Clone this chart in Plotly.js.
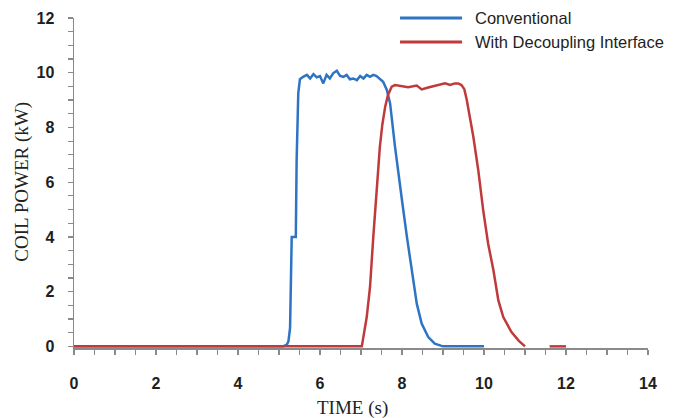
<!DOCTYPE html>
<html>
<head>
<meta charset="utf-8">
<script src="https://cdn.plot.ly/plotly-3.0.1.min.js"></script>
<style>html,body{margin:0;padding:0;background:#fff;}#chart{width:692px;height:418px;}</style>
</head>
<body>
<div id="chart"></div>
<script>
// ---- data ----
const seriesNames = ["Conventional", "With Decoupling Interface"];
const convTime = [0, 5.1, 5.19, 5.23, 5.27, 5.28, 5.30, 5.31, 5.41, 5.43, 5.47, 5.51, 5.59, 5.68, 5.76, 5.84, 5.92, 6.0, 6.08, 6.16, 6.24, 6.32, 6.41, 6.49, 6.57, 6.65, 6.73, 6.81, 6.90, 6.98, 7.06, 7.14, 7.22, 7.30, 7.38, 7.46, 7.54, 7.63, 7.71, 7.83, 7.91, 8.01, 8.12, 8.24, 8.36, 8.48, 8.64, 8.80, 9.0, 10.0];
const convPower = [0, 0, 0.06, 0.18, 0.67, 1.9, 3.1, 4.0, 4.0, 6.8, 9.25, 9.76, 9.85, 9.92, 9.79, 9.95, 9.83, 9.88, 9.61, 9.92, 9.79, 9.98, 10.07, 9.88, 9.85, 9.92, 9.76, 9.79, 9.73, 9.88, 9.79, 9.92, 9.85, 9.92, 9.88, 9.79, 9.67, 9.37, 8.88, 7.29, 6.44, 5.22, 4.0, 2.78, 1.56, 0.83, 0.34, 0.1, 0, 0];
const decTime = [0, 7.02, 7.14, 7.22, 7.30, 7.38, 7.46, 7.52, 7.59, 7.66, 7.75, 7.83, 8.07, 8.15, 8.36, 8.48, 8.64, 8.85, 9.05, 9.17, 9.29, 9.37, 9.45, 9.52, 9.58, 9.74, 9.86, 9.98, 10.1, 10.23, 10.35, 10.47, 10.67, 10.85, 11.0, 11.3, 11.6, 12.0];
const decPower = [0, 0, 1.07, 2.17, 4.0, 5.83, 7.29, 8.1, 8.76, 9.2, 9.49, 9.55, 9.49, 9.47, 9.53, 9.39, 9.46, 9.55, 9.61, 9.55, 9.61, 9.61, 9.55, 9.4, 9.0, 7.66, 6.44, 4.98, 3.76, 2.78, 1.68, 1.07, 0.52, 0.2, 0, null, 0, 0];
const xTickVals = [0, 2, 4, 6, 8, 10, 12, 14];
const yTickVals = [0, 2, 4, 6, 8, 10, 12];
const xTitle = "TIME (s)";
const yTitle = "COIL POWER (kW)";

// ---- styles ----
const blue = "#2e74c2";
const red = "#c0393b";
const axisGray = "#8a8a8a";
const tickFont = {family: "Liberation Sans, Arial, sans-serif", size: 16, color: "#1e1e1e", weight: "bold"};
const serif = "Liberation Serif, Times New Roman, serif";
const legFont = {family: "Liberation Sans, Arial, sans-serif", size: 16.5, color: "#1e1e1e"};

const traces = [
  {x: convTime, y: convPower, name: seriesNames[0], type: "scatter", mode: "lines",
   line: {color: blue, width: 2.5}, connectgaps: false},
  {x: decTime, y: decPower, name: seriesNames[1], type: "scatter", mode: "lines",
   line: {color: red, width: 2.5}, connectgaps: false}
];

const axisCommon = {
  showline: true, linecolor: axisGray, linewidth: 1.5,
  ticks: "outside", ticklen: 5, tickwidth: 1.2, tickcolor: axisGray,
  showgrid: false, zeroline: false, tickfont: tickFont, fixedrange: true
};

const layout = {
  width: 692, height: 418,
  margin: {l: 74, r: 44, t: 18, b: 70},
  paper_bgcolor: "#ffffff", plot_bgcolor: "#ffffff",
  showlegend: false,
  xaxis: Object.assign({}, axisCommon, {
    range: [0, 14], tickvals: xTickVals, ticktext: xTickVals.map(String),
    minor: {dtick: 0.5, tick0: 0, ticks: "outside", ticklen: 5, tickwidth: 1.2, tickcolor: axisGray},
    ticklabelstandoff: 15
  }),
  yaxis: Object.assign({}, axisCommon, {
    range: [-0.06, 12], tickvals: yTickVals, ticktext: yTickVals.map(String),
    minor: {dtick: 0.5, tick0: 0, ticks: "outside", ticklen: 5, tickwidth: 1.2, tickcolor: axisGray},
    ticklabelstandoff: 10
  }),
  shapes: [
    {type: "line", xref: "paper", yref: "paper", x0: 0.568, x1: 0.676, y0: 1.0, y1: 1.0, line: {color: blue, width: 3}},
    {type: "line", xref: "paper", yref: "paper", x0: 0.568, x1: 0.676, y0: 0.927, y1: 0.927, line: {color: red, width: 3}}
  ],
  annotations: [
    {text: seriesNames[0], xref: "paper", yref: "paper", x: 0.695, y: 1.0, xanchor: "left", yanchor: "middle", showarrow: false, font: legFont},
    {text: seriesNames[1], xref: "paper", yref: "paper", x: 0.695, y: 0.927, xanchor: "left", yanchor: "middle", showarrow: false, font: legFont},
    {text: yTitle, xref: "paper", yref: "paper", x: -0.0906, y: 0.504, xanchor: "center", yanchor: "middle", textangle: -90, showarrow: false,
     font: {family: serif, size: 19, color: "#222"}},
    {text: xTitle, xref: "paper", yref: "paper", x: 0.485, y: -0.183, xanchor: "center", yanchor: "middle", showarrow: false,
     font: {family: serif, size: 19, color: "#222"}}
  ]
};

Plotly.newPlot("chart", traces, layout, {displayModeBar: false, staticPlot: true});
</script>
</body>
</html>
